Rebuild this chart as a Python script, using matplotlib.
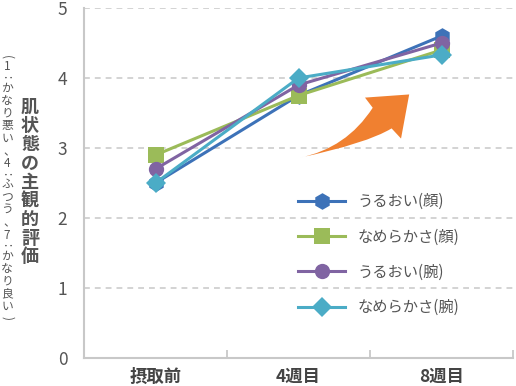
import matplotlib
matplotlib.use("Agg")
import matplotlib.pyplot as plt
from matplotlib.path import Path
from matplotlib.patches import PathPatch

plt.rcParams['font.family'] = ['Noto Sans CJK JP', 'DejaVu Sans']

# data
categories = ['摂取前', '4週目', '8週目']
series_names = ['うるおい(顔)', 'なめらかさ(顔)', 'うるおい(腕)', 'なめらかさ(腕)']
uruoi_kao = [2.5, 3.75, 4.6]
nameraka_kao = [2.9, 3.75, 4.4]
uruoi_ude = [2.7, 3.9, 4.5]
nameraka_ude = [2.5, 4.0, 4.33]
y_ticks = [0, 1, 2, 3, 4, 5]
ylabel_main = '肌状態の主観的評価'
ylabel_sub = '(1:かなり悪い、4:ふつう、7:かなり良い)'

colors = ['#3d72b8', '#9bbb59', '#8064a2', '#4bacc6']
markers = ['h', 's', 'o', 'D']
msizes = [12, 11, 11, 10]

fig = plt.figure(figsize=(5.16, 3.86), dpi=100)
ax = fig.add_axes([84 / 516, 28 / 386, 429 / 516, 350 / 386])

x = list(range(len(categories)))
for vals, name, c, m, ms in zip([uruoi_kao, nameraka_kao, uruoi_ude, nameraka_ude],
                                series_names, colors, markers, msizes):
    ax.plot(x, vals, color=c, lw=2.2, marker=m, markersize=ms,
            markeredgewidth=0, label=name, zorder=3)

ax.set_xlim(-0.5, 2.5)
ax.set_ylim(0, 5)
ax.set_yticks(y_ticks)
ax.set_xticks(x)
ax.set_xticklabels(categories, fontsize=12.5, fontweight='bold', color='#444444')
ax.set_xticks([0.5, 1.5, 2.5], minor=True)
ax.tick_params(axis='x', which='major', length=0, pad=7)
ax.tick_params(axis='x', which='minor', direction='in', length=6, width=1.3, color='#c8c8c8')
ax.tick_params(axis='y', length=0, pad=12, labelsize=12.5, labelcolor='#555555')

for yv in y_ticks[1:]:
    ax.axhline(yv, color='#cccccc', lw=1.2, ls=(0, (3.5, 3)), zorder=1)

for s in ['top', 'right']:
    ax.spines[s].set_visible(False)
for s in ['left', 'bottom']:
    ax.spines[s].set_color('#c8c8c8')
    ax.spines[s].set_linewidth(1.5)

# orange arrow (decoration)
verts = [(0.502, 0.572), (0.612, 0.599), (0.673, 0.715), (0.655, 0.744),
         (0.758, 0.753), (0.739, 0.627), (0.717, 0.656), (0.659, 0.613),
         (0.502, 0.572), (0.502, 0.572)]
codes = [Path.MOVETO, Path.CURVE3, Path.CURVE3, Path.LINETO, Path.LINETO,
         Path.LINETO, Path.LINETO, Path.CURVE3, Path.CURVE3, Path.CLOSEPOLY]
ax.add_patch(PathPatch(Path(verts, codes), transform=ax.transAxes,
                       facecolor='#f08030', edgecolor='none', zorder=2))

leg = ax.legend(loc='upper left', bbox_to_anchor=(298 / 516, 1 - 193 / 386),
                bbox_transform=fig.transFigure, frameon=False, fontsize=11,
                handlelength=3.1, handletextpad=0.8, labelspacing=1.2,
                borderpad=0, borderaxespad=0)
for t in leg.get_texts():
    t.set_color('#555555')

# vertical y-axis labels, one character at a time
H = 386.0
for i, ch in enumerate(ylabel_main):
    yc = 107 + i * 18.75
    fig.text(30 / 516, 1 - yc / H, ch, fontsize=13, fontweight='bold',
             color='#555555', ha='center', va='center')

top = 52.0
for ch in ylabel_sub:
    narrow = ch in '():0123456789'
    adv = 10.0 if narrow else 12.5
    xo = 7.0
    if ch == '、':
        xo += 2
        adv = 14.0
    yc = top + adv / 2
    rot = -90 if ch in '():' else 0
    fig.text(xo / 516, 1 - yc / H, ch, fontsize=8.5, color='#555555',
             ha='center', va='center', rotation=rot)
    top += adv

fig.savefig('out.png', dpi=100)
